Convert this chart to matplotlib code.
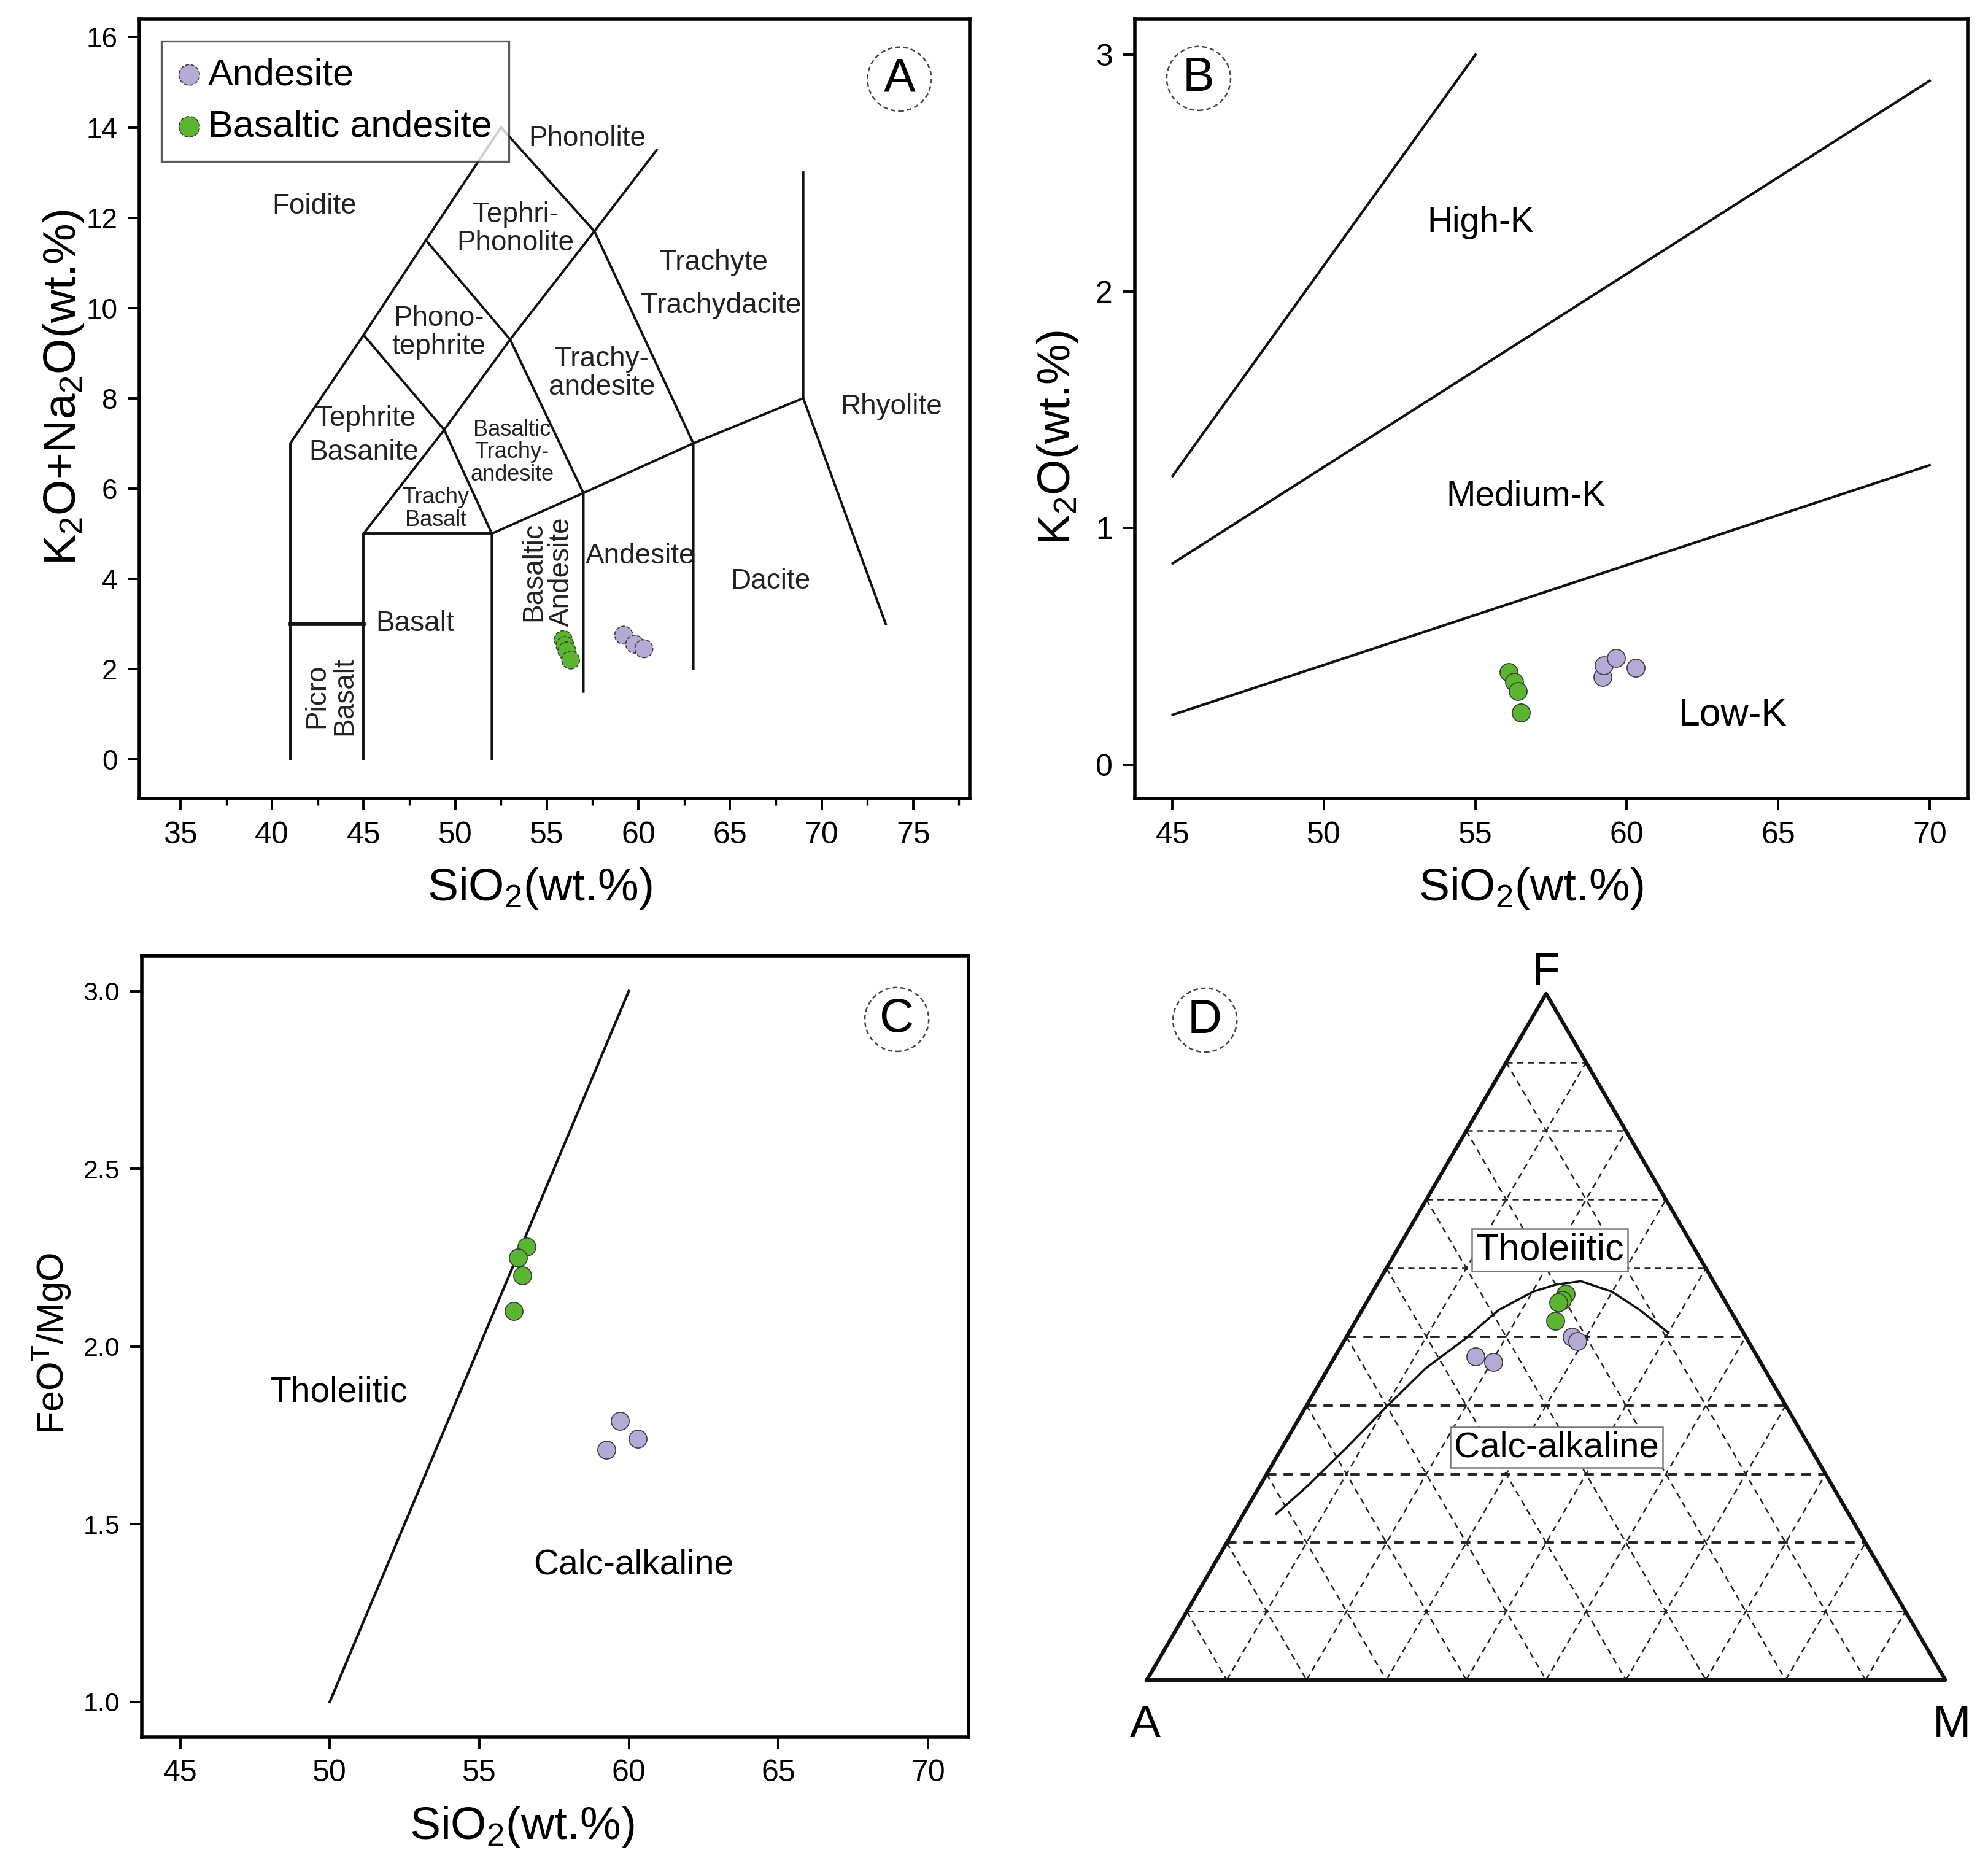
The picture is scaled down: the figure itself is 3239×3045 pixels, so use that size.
import numpy as np
import matplotlib
matplotlib.use("Agg")
import matplotlib.pyplot as plt

plt.rcParams['font.family'] = ['Liberation Sans', 'DejaVu Sans']
plt.rcParams['mathtext.fontset'] = 'custom'
plt.rcParams['mathtext.rm'] = 'Liberation Sans'
plt.rcParams['mathtext.it'] = 'Liberation Sans:italic'
plt.rcParams['mathtext.bf'] = 'Liberation Sans:bold'

PURPLE = '#b5a9d5'
GREEN = '#5cb531'
EDGE = '#3a3a3a'

# ---- data ----
# A: TAS
tas_and_sio2 = [59.2, 59.8, 60.3]
tas_and_alk = [2.75, 2.55, 2.45]
tas_bas_sio2 = [55.9, 56.0, 56.1, 56.3]
tas_bas_alk = [2.65, 2.52, 2.4, 2.2]

# B: K2O vs SiO2
k_and_sio2 = [59.2, 59.25, 59.65, 60.3]
k_and_k2o = [0.37, 0.42, 0.45, 0.41]
k_bas_sio2 = [56.1, 56.28, 56.4, 56.5]
k_bas_k2o = [0.39, 0.35, 0.31, 0.22]

# C: FeOT/MgO vs SiO2
c_and_sio2 = [59.7, 60.3, 59.25]
c_and_ratio = [1.79, 1.74, 1.71]
c_bas_sio2 = [56.58, 56.3, 56.43, 56.15]
c_bas_ratio = [2.28, 2.25, 2.20, 2.10]

# D: AFM (A, F, M fractions)
afm_and_a = [0.218, 0.214, 0.353, 0.335]
afm_and_f = [0.500, 0.494, 0.471, 0.463]
afm_and_m = [0.282, 0.292, 0.176, 0.202]
afm_bas_a = [0.194, 0.203, 0.210, 0.227]
afm_bas_f = [0.563, 0.554, 0.550, 0.523]
afm_bas_m = [0.243, 0.243, 0.240, 0.250]

# TAS boundary polylines (SiO2, alkali)
tas_lines = [
    [(41, 0), (41, 7), (45, 9.4), (48.4, 11.5), (52.5, 14)],
    [(45, 0), (45, 5), (52, 5)],
    [(52, 0), (52, 5), (57, 5.9), (63, 7), (69, 8)],
    [(45, 5), (49.4, 7.3), (53, 9.3), (57.6, 11.7), (61, 13.5)],
    [(52, 5), (49.4, 7.3), (45, 9.4)],
    [(48.4, 11.5), (53, 9.3), (57, 5.9), (57, 1.5)],
    [(52.5, 14), (57.6, 11.7), (63, 7), (63, 2)],
    [(69, 13), (69, 8), (73.5, 3)],
]
picro_line = [(41, 3), (45, 3)]

REG = 16.5
SMALL = 13
tas_labels = [
    ("Foidite", 42.3, 12.25, REG, 0),
    ("Phonolite", 57.2, 13.75, REG, 0),
    ("Tephri-\nPhonolite", 53.3, 11.75, REG, 0),
    ("Trachyte", 64.1, 11.0, REG, 0),
    ("Trachydacite", 64.5, 10.05, REG, 0),
    ("Phono-\ntephrite", 49.1, 9.45, REG, 0),
    ("Trachy-\nandesite", 58.0, 8.55, REG, 0),
    ("Rhyolite", 73.8, 7.8, REG, 0),
    ("Tephrite", 45.1, 7.55, REG, 0),
    ("Basanite", 45.0, 6.8, REG, 0),
    ("Basaltic\nTrachy-\nandesite", 53.1, 6.8, SMALL, 0),
    ("Trachy\nBasalt", 48.95, 5.55, SMALL, 0),
    ("Basaltic\nAndesite", 55.05, 4.15, REG, 90),
    ("Andesite", 60.1, 4.5, REG, 0),
    ("Dacite", 67.2, 3.95, REG, 0),
    ("Basalt", 47.8, 3.0, REG, 0),
    ("Picro\nBasalt", 43.2, 1.4, REG, 90),
]

# B: series boundaries
kline_x = [[45, 55], [45, 70], [45, 70]]
kline_y = [[1.22, 3.0], [0.85, 2.89], [0.21, 1.265]]

# C: boundary
cline_x = [50, 60]
cline_y = [1.0, 3.0]

# D: Irvine & Baragar boundary (A, F, M)
ib_a = [0.717, 0.657, 0.580, 0.501, 0.424, 0.353, 0.290, 0.233, 0.200, 0.166, 0.135, 0.113, 0.094]
ib_f = [0.242, 0.283, 0.339, 0.398, 0.454, 0.497, 0.539, 0.566, 0.576, 0.581, 0.566, 0.539, 0.506]
ib_m = [0.041, 0.060, 0.081, 0.101, 0.122, 0.150, 0.171, 0.201, 0.224, 0.253, 0.299, 0.348, 0.400]

MS = 10.5
TICK_FS = 18
LAB_FS = 27
NOTE_FS = 20.5


def style_axes(ax):
    for s in ax.spines.values():
        s.set_linewidth(2.0)
    ax.tick_params(which='major', direction='out', length=7, width=1.4, labelsize=TICK_FS, pad=6)
    ax.tick_params(which='minor', direction='out', length=4, width=1.2)


def panel_letter(ax, letter, x, y):
    ax.text(x, y, letter, fontsize=28, ha='center', va='center', zorder=10,
            bbox=dict(boxstyle='circle,pad=0.2', fc='white', ec='#444444', lw=0.9, ls=(0, (3, 2))))


def tern(a, f, m):
    a, f, m = np.asarray(a, float), np.asarray(f, float), np.asarray(m, float)
    s = a + f + m
    return (m + f / 2) / s, f * np.sqrt(3) / 2 / s


fig = plt.figure(figsize=(3239 / 200, 3045 / 200), dpi=200)

# ---------------- A ----------------
axA = fig.add_axes([0.0702, 0.5726, 0.4177, 0.4172])
for ln in tas_lines:
    xs, ys = zip(*ln)
    axA.plot(xs, ys, color='#111111', lw=1.4, zorder=2)
xs, ys = zip(*picro_line)
axA.plot(xs, ys, color='#111111', lw=2.4, zorder=2)
for txt, x, y, fs, rot in tas_labels:
    axA.text(x, y, txt, fontsize=fs, ha='center', va='center', rotation=rot,
             linespacing=1.05, color='#222222', zorder=3)
axA.scatter(tas_and_sio2, tas_and_alk, s=MS ** 2, c=PURPLE, edgecolors=EDGE, linewidths=0.6,
            linestyle='--', zorder=5, label='Andesite')
axA.scatter(tas_bas_sio2, tas_bas_alk, s=MS ** 2, c=GREEN, edgecolors=EDGE, linewidths=0.6,
            linestyle='--', zorder=5, label='Basaltic andesite')
axA.set_xlim(32.77, 78.1)
axA.set_ylim(-0.876, 16.4)
axA.set_xticks(range(35, 80, 5))
axA.set_xticks(np.arange(37.5, 78, 5), minor=True)
axA.set_yticks(range(0, 17, 2))
style_axes(axA)
axA.tick_params(axis='y', labelsize=16.5)
axA.set_xlabel('SiO$_2$(wt.%)', fontsize=LAB_FS, labelpad=10)
axA.xaxis.label.set_x(0.482)
axA.set_ylabel('K$_2$O+Na$_2$O(wt.%)', fontsize=LAB_FS, labelpad=0)
axA.yaxis.label.set_y(0.528)
leg = axA.legend(loc='upper left', bbox_to_anchor=(0.026, 0.972), borderaxespad=0,
                 fontsize=22, frameon=True, fancybox=False, handletextpad=0.2,
                 labelspacing=0.45, borderpad=0.45, handlelength=0.6, markerscale=1.15)
leg.get_frame().set_edgecolor('#333333')
leg.get_frame().set_linewidth(1.2)
leg.set_zorder(8)
panel_letter(axA, 'A', 74.25, 15.07)

# ---------------- B ----------------
axB = fig.add_axes([0.5708, 0.5726, 0.419, 0.4172])
for xs, ys in zip(kline_x, kline_y):
    axB.plot(xs, ys, color='#111111', lw=1.5, zorder=2)
axB.scatter(k_and_sio2, k_and_k2o, s=MS ** 2, c=PURPLE, edgecolors=EDGE, linewidths=0.6, zorder=5)
axB.scatter(k_bas_sio2, k_bas_k2o, s=MS ** 2, c=GREEN, edgecolors=EDGE, linewidths=0.6, zorder=5)
axB.text(55.17, 2.29, 'High-K', fontsize=NOTE_FS, ha='center', va='center')
axB.text(56.66, 1.135, 'Medium-K', fontsize=NOTE_FS, ha='center', va='center')
axB.text(63.5, 0.21, 'Low-K', fontsize=22.5, ha='center', va='center')
axB.set_xlim(43.75, 71.26)
axB.set_ylim(-0.145, 3.151)
axB.set_xticks(range(45, 71, 5))
axB.set_yticks([0, 1, 2, 3])
style_axes(axB)
axB.set_xlabel('SiO$_2$(wt.%)', fontsize=LAB_FS, labelpad=10)
axB.xaxis.label.set_x(0.476)
axB.set_ylabel('K$_2$O(wt.%)', fontsize=LAB_FS, labelpad=9)
axB.yaxis.label.set_y(0.463)
panel_letter(axB, 'B', 45.86, 2.90)

# ---------------- C ----------------
axC = fig.add_axes([0.0714, 0.0706, 0.4158, 0.4181])
axC.plot(cline_x, cline_y, color='#111111', lw=1.5, zorder=2)
axC.scatter(c_and_sio2, c_and_ratio, s=MS ** 2, c=PURPLE, edgecolors=EDGE, linewidths=0.6, zorder=5)
axC.scatter(c_bas_sio2, c_bas_ratio, s=MS ** 2, c=GREEN, edgecolors=EDGE, linewidths=0.6, zorder=5)
axC.text(50.3, 1.87, 'Tholeiitic', fontsize=NOTE_FS, ha='center', va='center')
axC.text(60.16, 1.385, 'Calc-alkaline', fontsize=NOTE_FS, ha='center', va='center')
axC.set_xlim(43.72, 71.36)
axC.set_ylim(0.901, 3.0995)
axC.set_xticks(range(45, 71, 5))
axC.set_yticks([1.0, 1.5, 2.0, 2.5, 3.0])
axC.set_yticklabels(['1.0', '1.5', '2.0', '2.5', '3.0'])
style_axes(axC)
axC.tick_params(axis='y', labelsize=15.5)
axC.set_xlabel('SiO$_2$(wt.%)', fontsize=LAB_FS, labelpad=10)
axC.xaxis.label.set_x(0.46)
axC.set_ylabel('FeO$^\\mathrm{T}$/MgO', fontsize=22, labelpad=6)
axC.yaxis.label.set_y(0.503)
panel_letter(axC, 'C', 68.96, 2.92)

# ---------------- D ----------------
axD = fig.add_axes([0.5708, 0.0706, 0.419, 0.4181])
axD.set_xlim(-0.0152, 1.028)
axD.set_ylim(-0.072, 0.914)
axD.axis('off')
h = np.sqrt(3) / 2
for i in range(1, 10):
    t = i / 10
    bold = 2 <= i <= 5
    kw = dict(color='#222222', lw=1.4 if bold else 0.9, ls=(0, (4, 3)), zorder=1)
    x0, y0 = tern(1 - t, t, 0)
    x1, y1 = tern(0, t, 1 - t)
    axD.plot([x0, x1], [y0, y1], **kw)
    kw['lw'] = 0.9
    x0, y0 = tern(t, 1 - t, 0)
    x1, y1 = tern(t, 0, 1 - t)
    axD.plot([x0, x1], [y0, y1], **kw)
    x0, y0 = tern(1 - t, 0, t)
    x1, y1 = tern(0, 1 - t, t)
    axD.plot([x0, x1], [y0, y1], **kw)
axD.plot([0, 1, 0.5, 0], [0, 0, h, 0], color='#111111', lw=2.2, zorder=3)
bx, by = tern(ib_a, ib_f, ib_m)
axD.plot(bx, by, color='#111111', lw=1.3, zorder=4)
ax_, ay_ = tern(afm_and_a, afm_and_f, afm_and_m)
axD.scatter(ax_, ay_, s=MS ** 2, c=PURPLE, edgecolors=EDGE, linewidths=0.6, zorder=5)
gx, gy = tern(afm_bas_a, afm_bas_f, afm_bas_m)
axD.scatter(gx, gy, s=MS ** 2, c=GREEN, edgecolors=EDGE, linewidths=0.6, zorder=5)
box = dict(boxstyle='square,pad=0.1', fc='white', ec='#777777', lw=0.9)
axD.text(0.5046, 0.5425, 'Tholeiitic', fontsize=22, ha='center', va='center', bbox=box, zorder=6)
axD.text(0.513, 0.2934, 'Calc-alkaline', fontsize=21, ha='center', va='center', bbox=box, zorder=6)
axD.text(0.5, 0.893, 'F', fontsize=27, ha='center', va='center')
axD.text(-0.002, -0.0565, 'A', fontsize=27, ha='center', va='center')
axD.text(1.008, -0.0565, 'M', fontsize=27, ha='center', va='center')
panel_letter(axD, 'D', 0.0727, 0.8326)

fig.savefig('out.png', dpi=200, facecolor='white')
